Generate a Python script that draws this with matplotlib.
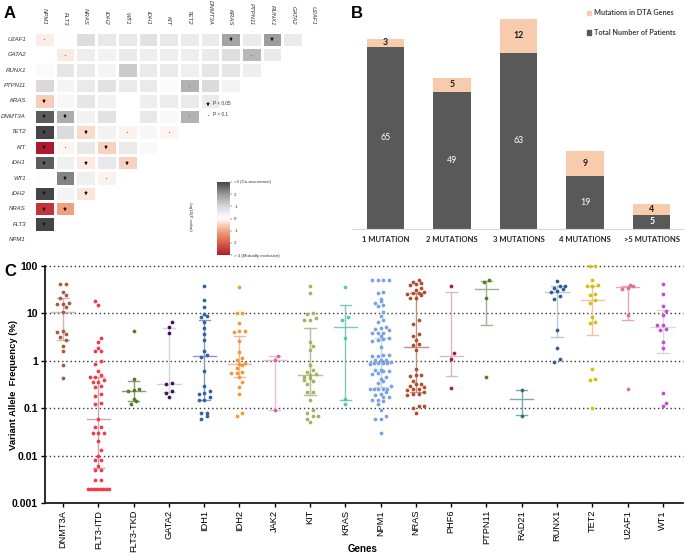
import numpy as np
import matplotlib
matplotlib.use('Agg')
import matplotlib.pyplot as plt
from matplotlib.colors import LinearSegmentedColormap, Normalize
from matplotlib.cm import ScalarMappable
from matplotlib.patches import Patch

plt.rcParams['font.family'] = ['Liberation Sans', 'DejaVu Sans']

# ---------------- Panel A data ----------------
heat_cols = ['NPM1', 'FLT3', 'NRAS', 'IDH2', 'WT1', 'IDH1', 'KIT', 'TET2',
             'DNMT3A', 'KRAS', 'PTPN11', 'RUNX1', 'GATA2', 'U2AF1']
heat_rows = ['U2AF1', 'GATA2', 'RUNX1', 'PTPN11', 'KRAS', 'DNMT3A', 'TET2',
             'KIT', 'IDH1', 'WT1', 'IDH2', 'NRAS', 'FLT3', 'NPM1']
heat_vals = [
    [-0.2, 0.05, 0.9, 0.6, 0.6, 0.75, 0.6, 0.55, 0.55, 1.85, 0.55, 1.95, 0.55],
    [0.0, -0.25, 0.45, 0.35, 0.55, 0.45, 0.45, 0.45, 0.55, 0.85, 1.5, 0.55],
    [0.1, 0.65, 0.55, 0.3, 1.2, 0.55, 0.55, 0.4, 0.65, 0.65, 0.45],
    [1.0, 0.3, 0.55, 0.75, 0.55, 0.55, 0.1, 1.6, 0.95, 0.3],
    [-0.55, 0.2, 0.65, 0.35, 0.0, 0.45, 0.5, 0.55, 0.55],
    [2.7, 1.7, 0.35, 0.75, 0.0, 0.6, 0.15, 1.6],
    [3.0, 0.95, -0.4, 0.35, -0.15, 0.2, -0.1],
    [-3.0, -0.1, 0.6, -0.5, 0.55, 0.15],
    [2.7, 0.4, -0.25, 0.6, -0.5],
    [0.05, 2.25, 0.4, -0.15],
    [3.0, 0.3, -0.3],
    [-2.6, -1.1],
    [3.0],
    [],
]
heat_sig = [
    ".        * * ",
    " .        . ",
    "           ",
    "       .  ",
    "*        ",
    "**     .",
    "* * . .",
    "*. *  ",
    "* * *",
    " * .",
    "* *",
    "**",
    "*",
    "",
]
cbar_ticklabels = ['> 3 (Mutually exclusive)', '2', '1', '0', '1', '2',
                   '>3 (Co-occurrence)']

# ---------------- Panel B data ----------------
b_cats = ['1 MUTATION', '2 MUTATIONS', '3 MUTATIONS', '4 MUTATIONS', '>5 MUTATIONS']
b_total = [65, 49, 63, 19, 5]
b_dta = [3, 5, 12, 9, 4]

# ---------------- Panel C data ----------------
c_genes = ['DNMT3A', 'FLT3-ITD', 'FLT3-TKD', 'GATA2', 'IDH1', 'IDH2', 'JAK2', 'KIT',
           'KRAS', 'NPM1', 'NRAS', 'PHF6', 'PTPN11', 'RAD21', 'RUNX1', 'TET2',
           'U2AF1', 'WT1']
dnmt3a = [41, 42, 28.7, 24.4, 21.5, 15.8, 15.8, 16.3, 13.4, 10.7, 4.3, 4.1, 3.7,
          3.2, 2.7, 2.1, 1.6, 0.8, 0.44]
flt3_itd = [18.0, 14.8, 3.1, 2.5, 1.9, 1.6, 1.6, 1.0, 0.87, 0.60, 0.50, 0.46, 0.45,
            0.40, 0.35, 0.35, 0.30, 0.285, 0.20, 0.18, 0.13, 0.12, 0.06, 0.04, 0.04,
            0.03, 0.03, 0.03, 0.02, 0.013, 0.010, 0.008, 0.008, 0.006, 0.005, 0.005,
            0.003, 0.003, 0.002, 0.002, 0.002, 0.002, 0.002, 0.002, 0.002, 0.002]
flt3_tkd = [4.3, 0.41, 0.26, 0.24, 0.23, 0.16, 0.14, 0.12]
gata2 = [6.5, 5.2, 3.8, 0.34, 0.32, 0.23, 0.21, 0.17]
idh1 = [38.4, 18.9, 13.4, 9.9, 9.0, 8.4, 6.6, 5.0, 3.6, 2.7, 1.6, 1.3, 1.2, 0.62,
        0.30, 0.23, 0.21, 0.20, 0.17, 0.15, 0.15, 0.08, 0.08, 0.07, 0.06]
idh2 = [35.5, 10.4, 10.4, 6.3, 4.3, 4.3, 4.0, 2.6, 1.5, 1.13, 1.02, 0.90, 0.85, 0.82,
        0.70, 0.57, 0.55, 0.55, 0.45, 0.36, 0.28, 0.20, 0.08, 0.07]
jak2 = [1.24, 1.02, 0.09]
kit = [37.8, 26.5, 10.2, 9.9, 8.0, 7.3, 7.1, 2.5, 2.1, 1.7, 0.82, 0.64, 0.59, 0.53,
       0.50, 0.46, 0.43, 0.39, 0.37, 0.32, 0.22, 0.22, 0.15, 0.09, 0.08, 0.07, 0.07,
       0.06, 0.05]
kras = [35.5, 8.4, 7.3, 3.0, 0.16, 0.12]
npm1 = [50, 50, 50, 50, 28.3, 27, 20.5, 18.6, 16.8, 14.8, 14.3, 10.7, 8.8, 7.3, 6.7,
        5.2, 4.9, 4.7, 4.5, 3.9, 3.9, 3.9, 3.3, 3.1, 2.9, 2.75, 2.66, 2.0, 1.33, 1.33,
        1.28, 1.26, 1.06, 1.06, 1.06, 0.93, 0.92, 0.90, 0.90, 0.88, 0.87, 0.64, 0.64,
        0.62, 0.61, 0.55, 0.53, 0.46, 0.42, 0.37, 0.34, 0.29, 0.26, 0.26, 0.26, 0.26,
        0.25, 0.22, 0.20, 0.19, 0.17, 0.17, 0.15, 0.15, 0.14, 0.12, 0.09, 0.07, 0.06,
        0.06, 0.03]
nras = [49.9, 46.7, 43.8, 42.4, 39.1, 34.4, 30.7, 28.7, 27, 25.6, 27, 24.4, 21.1, 21.1,
        7.1, 6.1, 3.6, 3.4, 2.8, 2.3, 2.2, 1.7, 0.68, 0.51, 0.51, 0.47, 0.375, 0.32,
        0.32, 0.30, 0.28, 0.26, 0.255, 0.24, 0.22, 0.20, 0.20, 0.19, 0.11, 0.11, 0.10,
        0.08]
phf6 = [38.4, 1.44, 1.11, 0.27]
ptpn11 = [50.7, 46, 21.5, 0.46]
rad21 = [0.24, 0.07]
runx1 = [47.5, 38.4, 37.2, 34.9, 32.2, 30.2, 28.3, 23.7, 20.5, 4.5, 1.9, 1.1, 0.94]
tet2 = [98, 98, 50.7, 39, 38.4, 37.2, 25.3, 24.0, 19.2, 16.8, 8.4, 6.7, 6.4, 0.66,
        0.41, 0.39, 0.10]
u2af1 = [39.7, 37.8, 34.4, 33.3, 9.4, 0.26]
wt1 = [42.4, 26.1, 14.6, 11.2, 9.1, 5.6, 5.6, 4.8, 4.5, 2.5, 1.9, 0.21, 0.13, 0.11]
c_values = [dnmt3a, flt3_itd, flt3_tkd, gata2, idh1, idh2, jak2, kit, kras, npm1,
            nras, phf6, ptpn11, rad21, runx1, tet2, u2af1, wt1]
c_median = [10.7, 0.06, 0.234, 0.33, 1.24, 0.856, 1.06, 0.51, 5.17, 0.95, 1.95, 1.26,
            33.3, 0.156, 28.3, 19.2, 36, 5.2]
c_q1 = [2.7, 0.0055, 0.144, 0.216, 0.151, 0.455, 0.090, 0.187, 0.149, 0.28, 0.22,
        0.478, 5.69, 0.071, 3.18, 3.5, 7.14, 1.46]
c_q3 = [21.5, 0.46, 0.38, 4.92, 7.4, 3.33, 1.26, 4.84, 15.0, 3.0, 27, 28.7, 49,
        0.242, 37, 37.2, 37.2, 12]
c_colors = ['#a65a3f', '#f03a47', '#4f7d21', '#4b0f5c', '#2f62a6', '#f89535', '#d3689a',
            '#a5b35e', '#52c9b0', '#7aa3e0', '#b04e32', '#a21d4e', '#5a7d1c', '#1f7a6a',
            '#2f5b9e', '#d2c300', '#e06f9a', '#c54bd8']
c_ebar_colors = ['#d8b4ac', '#c9a9b0', '#8a9a7a', '#c8d8d4', '#8a9ab8', '#f0b8a0',
                 '#e8c0d0', '#b8bca0', '#7ecab8', '#c8d4e8', '#c09080', '#d8b8c0',
                 '#a0b090', '#80a8a0', '#c0c8d0', '#f0c0b0', '#e0a8b8', '#d8dcc8']
c_yticks = [0.001, 0.01, 0.1, 1, 10, 100]
c_yticklabels = ['0.001', '0.01', '0.1', '1', '10', '100']

# ---------------- Figure ----------------
W, H = 685, 555
fig = plt.figure(figsize=(W / 100, H / 100), dpi=100)


def px_axes(l, t, w, h):
    return fig.add_axes([l / W, 1 - (t + h) / H, w / W, h / H])


def fig_xy(x, y):
    return x / W, 1 - y / H


# ===== Panel A =====
n = len(heat_cols)
cw, ch = 20.7, 15.4
axA = px_axes(34, 31.7, cw * n, ch * n)
M = np.full((n, n), np.nan)
for i, row in enumerate(heat_vals):
    for j, v in enumerate(row):
        M[i, j] = v
cmap = LinearSegmentedColormap.from_list(
    'cooc', [(0, '#b2182b'), (1 / 6, '#d6604d'), (2 / 6, '#f4a582'), (0.5, '#ffffff'),
             (4 / 6, '#d9d9d9'), (5 / 6, '#9a9a9a'), (1, '#454545')])
norm = Normalize(-3, 3)
axA.pcolormesh(np.arange(n + 1) - 0.5, np.arange(n + 1) - 0.5,
               np.ma.masked_invalid(M), cmap=cmap, norm=norm,
               edgecolors='white', linewidth=0.8)
axA.set_xlim(-0.5, n - 0.5)
axA.set_ylim(n - 0.5, -0.5)
axA.axis('off')
for i, s in enumerate(heat_sig):
    for j, c in enumerate(s):
        if c == '*':
            axA.plot(j, i, marker='*', ms=3.6, color='#1a1a1a', mew=0)
        elif c == '.':
            axA.plot(j, i, marker='o', ms=0.9, color='#777777', mew=0)
for j, g in enumerate(heat_cols):
    axA.text(j, -0.93, g, rotation=270, ha='center', va='bottom', fontsize=4.3,
             style='italic', color='#333333')
for i, g in enumerate(heat_rows):
    axA.text(-0.89, i, g, ha='right', va='center', fontsize=4.3, style='italic',
             color='#333333')
# significance legend
axA.plot(7.9, 4.19, marker='*', ms=3.6, color='#1a1a1a', mew=0)
axA.text(8.15, 4.19, 'P < 0.05', fontsize=3.4, va='center', color='#333333')
axA.plot(7.9, 4.9, marker='o', ms=0.9, color='#777777', mew=0)
axA.text(8.15, 4.9, 'P < 0.1', fontsize=3.4, va='center', color='#333333')

caxA = px_axes(217, 182, 13, 73)
cb = fig.colorbar(ScalarMappable(norm=norm, cmap=cmap), cax=caxA,
                  ticks=[-3, -2, -1, 0, 1, 2, 3])
cb.set_ticklabels(cbar_ticklabels)
cb.outline.set_visible(False)
caxA.tick_params(labelsize=3.2, length=1.5, width=0.3, pad=1.5, colors='#333333')
fig.text(*fig_xy(190, 217), '-log10(P-value)', rotation=270, fontsize=3.2,
         ha='center', va='center', color='#333333')

fig.text(*fig_xy(10, 14), 'A', fontsize=12, fontweight='bold', ha='center', va='center')

# ===== Panel B =====
axB = px_axes(352, 5, 333, 224)
xb = np.arange(len(b_cats))
axB.bar(xb, b_total, width=0.56, color='#595959', label='Total Number of Patients')
axB.bar(xb, b_dta, bottom=b_total, width=0.56, color='#f8cbad',
        label='Mutations in DTA Genes')
for i in range(len(b_cats)):
    axB.text(xb[i], b_total[i] / 2, str(b_total[i]), ha='center', va='center',
             fontsize=6.3, color='white', family=['Lato', 'DejaVu Sans'],
             fontweight='bold' if b_total[i] < 10 else 'normal')
    axB.text(xb[i], b_total[i] + b_dta[i] / 2, str(b_dta[i]), ha='center',
             va='center', fontsize=6.3, color='#1a1a1a', fontweight='bold',
             family=['Lato', 'DejaVu Sans'])
axB.set_xlim(-0.5, len(b_cats) - 0.5)
axB.set_ylim(0, 80)
axB.set_yticks([])
for sp in ['top', 'right', 'left']:
    axB.spines[sp].set_visible(False)
axB.spines['bottom'].set_color('#d9d9d9')
axB.spines['bottom'].set_linewidth(0.8)
axB.set_xticks(xb)
axB.set_xticklabels(b_cats, fontsize=5.5, fontweight='bold',
                    family=['Lato', 'DejaVu Sans'], color='#262626')
axB.tick_params(axis='x', length=0, pad=5)
handles = [Patch(color='#f8cbad', label='Mutations in DTA Genes'),
           Patch(color='#595959', label='Total Number of Patients')]
leg = fig.legend(handles=handles, loc='upper left', bbox_to_anchor=fig_xy(586, 8),
                 frameon=False, handlelength=0.55, handleheight=0.55,
                 handletextpad=0.35, labelspacing=1.75, borderaxespad=0,
                 borderpad=0.2,
                 prop={'family': ['Lato', 'DejaVu Sans'], 'size': 5.2, 'weight': 'bold'})
for t in leg.get_texts():
    t.set_color('#404040')

fig.text(*fig_xy(357, 14), 'B', fontsize=12, fontweight='bold', ha='center', va='center')

# ===== Panel C =====
c_left, c_top, c_w, c_h = 45, 266, 638, 237
axC = px_axes(c_left, c_top, c_w, c_h)
axC.set_yscale('log')
axC.set_ylim(0.001, 100)
axC.set_xlim(-0.51, len(c_genes) - 0.43)
px_per_dec = c_h / 5.0
px_per_unit = c_w / (len(c_genes) - 0.43 + 0.51)

for yv in [0.01, 0.1, 1, 10, 100]:
    axC.axhline(yv, color='#333333', lw=1.0, ls=(0, (1, 2)), zorder=1, clip_on=False)


def swarm_offsets(vals, h=3.3, s=5.6, maxw=21.0, near=5.5):
    """Row-based beeswarm in pixel space (GraphPad-like)."""
    vals = np.asarray(vals, float)
    order = np.argsort(vals)
    y = np.log10(vals[order]) * px_per_dec
    offs = np.zeros(len(vals))
    i = 0
    prev_y, prev_k, prev_shift, sign = -1e9, 0, 0.0, 1.0
    while i < len(y):
        j = i
        while j < len(y) and y[j] - y[i] < h:
            j += 1
        k = j - i
        step = s if k == 1 else min(s, maxw / (k - 1))
        base = (np.arange(k) - (k - 1) / 2) * step
        shift = 0.0
        if y[i] - prev_y < near and (k % 2) == (prev_k % 2) and k <= 3:
            if prev_shift == 0.0:
                shift = sign * s / 2
                sign = -sign
        offs[order[i:j]] = (base + shift) / px_per_unit
        prev_y, prev_k, prev_shift = y[i], k, shift
        i = j
    return offs


for gi, vals in enumerate(c_values):
    ec = c_ebar_colors[gi]
    axC.plot([gi, gi], [c_q1[gi], c_q3[gi]], color=ec, lw=1.0, zorder=2)
    for q in (c_q1[gi], c_q3[gi]):
        axC.plot([gi - 0.16, gi + 0.16], [q, q], color=ec, lw=1.0, zorder=2)
    axC.plot([gi - 0.33, gi + 0.33], [c_median[gi]] * 2, color=ec, lw=1.0, zorder=2)
    offs = swarm_offsets(vals)
    axC.plot(gi + offs, vals, 'o', ms=2.7, color=c_colors[gi], mew=0, zorder=3,
             clip_on=False)

axC.set_yticks(c_yticks)
axC.set_yticklabels(c_yticklabels, fontsize=7.5, fontweight='bold')
axC.yaxis.set_minor_locator(matplotlib.ticker.NullLocator())
axC.set_xticks(np.arange(len(c_genes)))
axC.set_xticklabels(c_genes, rotation=90, fontsize=6.7)
axC.tick_params(axis='y', length=3, width=1.0, pad=2)
axC.tick_params(axis='x', length=3, width=1.0, pad=2)
for sp in ['top', 'right']:
    axC.spines[sp].set_visible(False)
for sp in ['left', 'bottom']:
    axC.spines[sp].set_linewidth(1.3)
    axC.spines[sp].set_color('#1a1a1a')
fig.text(*fig_xy(14, 385), 'Variant Allele  Frequency (%)', rotation=90, fontsize=6.8,
         fontweight='bold', ha='center', va='center')
fig.text(*fig_xy(363, 549), 'Genes', fontsize=7, fontweight='bold', ha='center',
         va='center')
fig.text(*fig_xy(10, 272), 'C', fontsize=12, fontweight='bold', ha='center', va='center')

fig.savefig('out.png', dpi=100)
